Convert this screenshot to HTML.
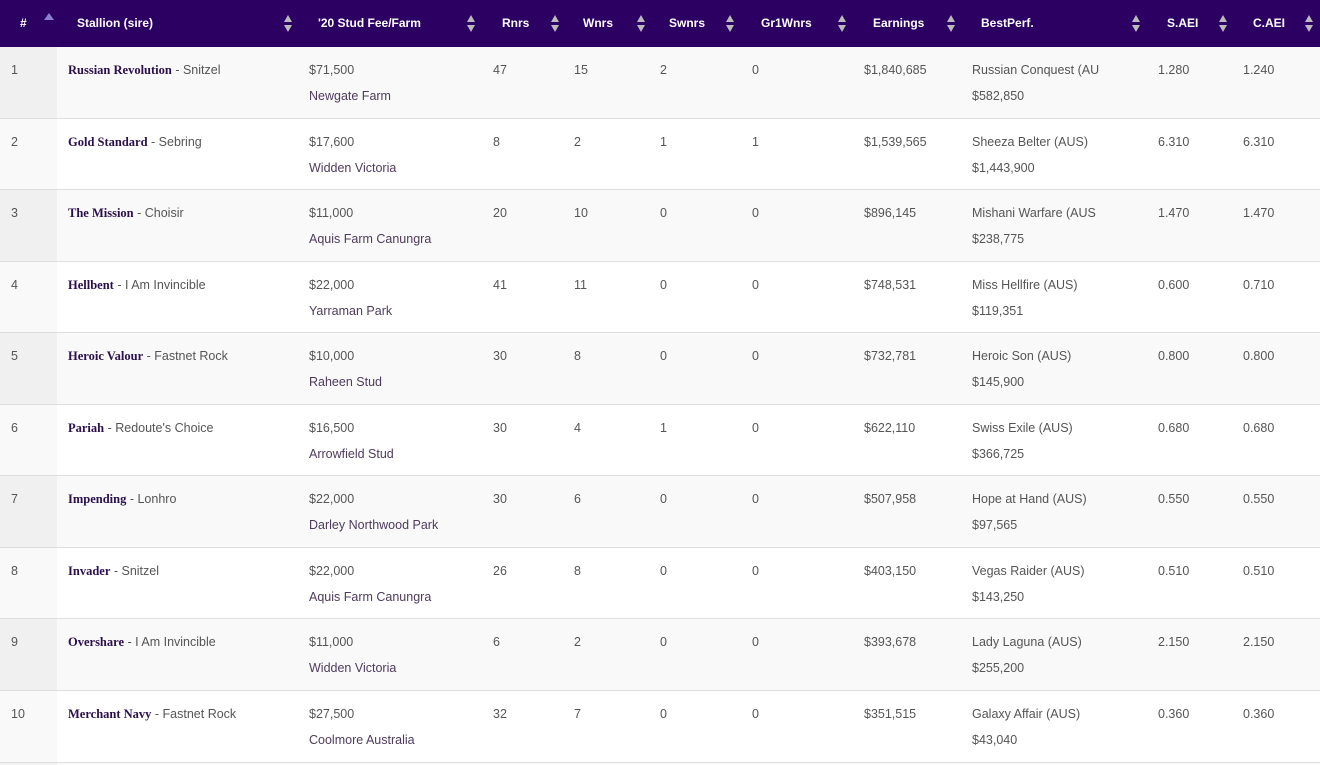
<!DOCTYPE html>
<html><head><meta charset="utf-8"><style>
*{margin:0;padding:0;box-sizing:border-box}
html,body{width:1320px;height:765px;overflow:hidden}
body{background:#fff;font-family:"Liberation Sans",sans-serif;font-size:12.5px;color:#555;position:relative}
.hd{position:absolute;left:0;top:0;width:1320px;height:47px;background:#2c0062}
.hd span{position:absolute;top:16px;color:#fff;font-weight:bold;font-size:12px;line-height:14px}
.ic{position:absolute;top:15px;width:8px;height:18px}
.ic:before{content:"";position:absolute;left:0;top:0;border-left:4px solid transparent;border-right:4px solid transparent;border-bottom:7px solid #bbb}
.ic:after{content:"";position:absolute;left:0;top:10px;border-left:4px solid transparent;border-right:4px solid transparent;border-top:7px solid #bbb}
.up{position:absolute;left:44px;top:13px;border-left:5px solid transparent;border-right:5px solid transparent;border-bottom:7px solid #8a7fd0}
.r{position:absolute;left:0;width:1320px;border-bottom:1px solid #dedede}
.r.o{background:#f9f9f9}.r.o .n{background:#f0f0f0}
.r.e{background:#fff}.r.e .n{background:#f9f9f9}
.n{position:absolute;left:0;top:0;width:57px;height:100%}
.r span{position:absolute;line-height:14px;white-space:nowrap}
.l1{top:16px}.l2{top:42px}
b{font-family:"Liberation Serif",serif;color:#2a0f4a;font-size:12.5px}
.fm{color:#4e3b5c}
</style></head><body>
<div class="hd">
<span style="left:20px">#</span><div class="up"></div>
<span style="left:77px">Stallion (sire)</span><div class="ic" style="left:284px"></div>
<span style="left:318px">'20 Stud Fee/Farm</span><div class="ic" style="left:467px"></div>
<span style="left:502px">Rnrs</span><div class="ic" style="left:551px"></div>
<span style="left:583px">Wnrs</span><div class="ic" style="left:637px"></div>
<span style="left:669px">Swnrs</span><div class="ic" style="left:726px"></div>
<span style="left:761px">Gr1Wnrs</span><div class="ic" style="left:838px"></div>
<span style="left:873px">Earnings</span><div class="ic" style="left:947px"></div>
<span style="left:981px">BestPerf.</span><div class="ic" style="left:1132px"></div>
<span style="left:1167px">S.AEI</span><div class="ic" style="left:1219px"></div>
<span style="left:1253px">C.AEI</span><div class="ic" style="left:1305px"></div>
</div>

<div class="r o" style="top:47px;height:72px"><div class="n"></div><span class="l1" style="left:11px">1</span><span class="l1" style="left:68px"><b>Russian Revolution</b> - Snitzel</span><span class="l1" style="left:309px">$71,500</span><span class="l2 fm" style="left:309px">Newgate Farm</span><span class="l1" style="left:493px">47</span><span class="l1" style="left:574px">15</span><span class="l1" style="left:660px">2</span><span class="l1" style="left:752px">0</span><span class="l1" style="left:864px">$1,840,685</span><span class="l1" style="left:972px">Russian Conquest (AU</span><span class="l2" style="left:972px">$582,850</span><span class="l1" style="left:1158px">1.280</span><span class="l1" style="left:1243px">1.240</span></div>

<div class="r e" style="top:119px;height:71px"><div class="n"></div><span class="l1" style="left:11px">2</span><span class="l1" style="left:68px"><b>Gold Standard</b> - Sebring</span><span class="l1" style="left:309px">$17,600</span><span class="l2 fm" style="left:309px">Widden Victoria</span><span class="l1" style="left:493px">8</span><span class="l1" style="left:574px">2</span><span class="l1" style="left:660px">1</span><span class="l1" style="left:752px">1</span><span class="l1" style="left:864px">$1,539,565</span><span class="l1" style="left:972px">Sheeza Belter (AUS)</span><span class="l2" style="left:972px">$1,443,900</span><span class="l1" style="left:1158px">6.310</span><span class="l1" style="left:1243px">6.310</span></div>

<div class="r o" style="top:190px;height:72px"><div class="n"></div><span class="l1" style="left:11px">3</span><span class="l1" style="left:68px"><b>The Mission</b> - Choisir</span><span class="l1" style="left:309px">$11,000</span><span class="l2 fm" style="left:309px">Aquis Farm Canungra</span><span class="l1" style="left:493px">20</span><span class="l1" style="left:574px">10</span><span class="l1" style="left:660px">0</span><span class="l1" style="left:752px">0</span><span class="l1" style="left:864px">$896,145</span><span class="l1" style="left:972px">Mishani Warfare (AUS</span><span class="l2" style="left:972px">$238,775</span><span class="l1" style="left:1158px">1.470</span><span class="l1" style="left:1243px">1.470</span></div>

<div class="r e" style="top:262px;height:71px"><div class="n"></div><span class="l1" style="left:11px">4</span><span class="l1" style="left:68px"><b>Hellbent</b> - I Am Invincible</span><span class="l1" style="left:309px">$22,000</span><span class="l2 fm" style="left:309px">Yarraman Park</span><span class="l1" style="left:493px">41</span><span class="l1" style="left:574px">11</span><span class="l1" style="left:660px">0</span><span class="l1" style="left:752px">0</span><span class="l1" style="left:864px">$748,531</span><span class="l1" style="left:972px">Miss Hellfire (AUS)</span><span class="l2" style="left:972px">$119,351</span><span class="l1" style="left:1158px">0.600</span><span class="l1" style="left:1243px">0.710</span></div>

<div class="r o" style="top:333px;height:72px"><div class="n"></div><span class="l1" style="left:11px">5</span><span class="l1" style="left:68px"><b>Heroic Valour</b> - Fastnet Rock</span><span class="l1" style="left:309px">$10,000</span><span class="l2 fm" style="left:309px">Raheen Stud</span><span class="l1" style="left:493px">30</span><span class="l1" style="left:574px">8</span><span class="l1" style="left:660px">0</span><span class="l1" style="left:752px">0</span><span class="l1" style="left:864px">$732,781</span><span class="l1" style="left:972px">Heroic Son (AUS)</span><span class="l2" style="left:972px">$145,900</span><span class="l1" style="left:1158px">0.800</span><span class="l1" style="left:1243px">0.800</span></div>

<div class="r e" style="top:405px;height:71px"><div class="n"></div><span class="l1" style="left:11px">6</span><span class="l1" style="left:68px"><b>Pariah</b> - Redoute's Choice</span><span class="l1" style="left:309px">$16,500</span><span class="l2 fm" style="left:309px">Arrowfield Stud</span><span class="l1" style="left:493px">30</span><span class="l1" style="left:574px">4</span><span class="l1" style="left:660px">1</span><span class="l1" style="left:752px">0</span><span class="l1" style="left:864px">$622,110</span><span class="l1" style="left:972px">Swiss Exile (AUS)</span><span class="l2" style="left:972px">$366,725</span><span class="l1" style="left:1158px">0.680</span><span class="l1" style="left:1243px">0.680</span></div>

<div class="r o" style="top:476px;height:72px"><div class="n"></div><span class="l1" style="left:11px">7</span><span class="l1" style="left:68px"><b>Impending</b> - Lonhro</span><span class="l1" style="left:309px">$22,000</span><span class="l2 fm" style="left:309px">Darley Northwood Park</span><span class="l1" style="left:493px">30</span><span class="l1" style="left:574px">6</span><span class="l1" style="left:660px">0</span><span class="l1" style="left:752px">0</span><span class="l1" style="left:864px">$507,958</span><span class="l1" style="left:972px">Hope at Hand (AUS)</span><span class="l2" style="left:972px">$97,565</span><span class="l1" style="left:1158px">0.550</span><span class="l1" style="left:1243px">0.550</span></div>

<div class="r e" style="top:548px;height:71px"><div class="n"></div><span class="l1" style="left:11px">8</span><span class="l1" style="left:68px"><b>Invader</b> - Snitzel</span><span class="l1" style="left:309px">$22,000</span><span class="l2 fm" style="left:309px">Aquis Farm Canungra</span><span class="l1" style="left:493px">26</span><span class="l1" style="left:574px">8</span><span class="l1" style="left:660px">0</span><span class="l1" style="left:752px">0</span><span class="l1" style="left:864px">$403,150</span><span class="l1" style="left:972px">Vegas Raider (AUS)</span><span class="l2" style="left:972px">$143,250</span><span class="l1" style="left:1158px">0.510</span><span class="l1" style="left:1243px">0.510</span></div>

<div class="r o" style="top:619px;height:72px"><div class="n"></div><span class="l1" style="left:11px">9</span><span class="l1" style="left:68px"><b>Overshare</b> - I Am Invincible</span><span class="l1" style="left:309px">$11,000</span><span class="l2 fm" style="left:309px">Widden Victoria</span><span class="l1" style="left:493px">6</span><span class="l1" style="left:574px">2</span><span class="l1" style="left:660px">0</span><span class="l1" style="left:752px">0</span><span class="l1" style="left:864px">$393,678</span><span class="l1" style="left:972px">Lady Laguna (AUS)</span><span class="l2" style="left:972px">$255,200</span><span class="l1" style="left:1158px">2.150</span><span class="l1" style="left:1243px">2.150</span></div>

<div class="r e" style="top:691px;height:72px"><div class="n"></div><span class="l1" style="left:11px">10</span><span class="l1" style="left:68px"><b>Merchant Navy</b> - Fastnet Rock</span><span class="l1" style="left:309px">$27,500</span><span class="l2 fm" style="left:309px">Coolmore Australia</span><span class="l1" style="left:493px">32</span><span class="l1" style="left:574px">7</span><span class="l1" style="left:660px">0</span><span class="l1" style="left:752px">0</span><span class="l1" style="left:864px">$351,515</span><span class="l1" style="left:972px">Galaxy Affair (AUS)</span><span class="l2" style="left:972px">$43,040</span><span class="l1" style="left:1158px">0.360</span><span class="l1" style="left:1243px">0.360</span></div>

<div class="r o" style="top:763px;height:2px;border:0"><div class="n"></div></div>
</body></html>
